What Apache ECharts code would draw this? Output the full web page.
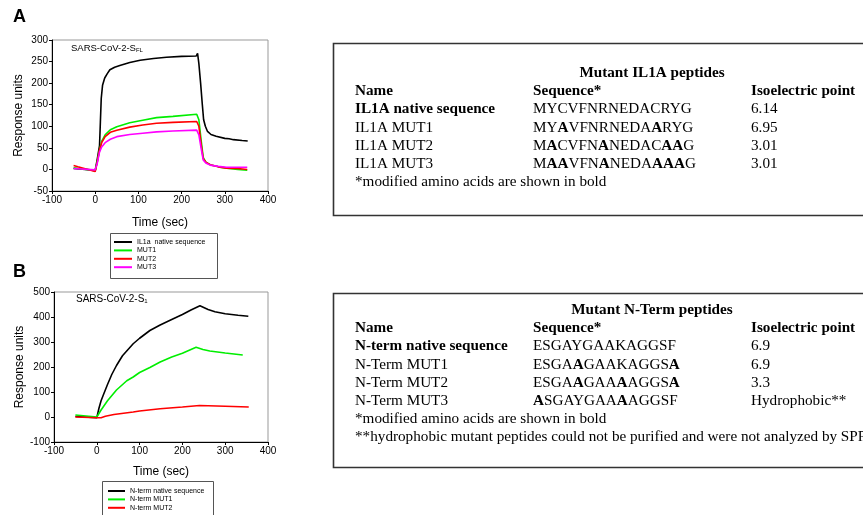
<!DOCTYPE html>
<html><head><meta charset="utf-8">
<script src="https://cdn.jsdelivr.net/npm/echarts@6/dist/echarts.min.js"></script>
<style>html,body{margin:0;padding:0;background:#fff}#c{width:863px;height:515px}</style>
</head><body><div id="c"></div>
<script>
// ---------- Panel A data (time in sec, response units) ----------
const aBlackT = [-50,-10,0,5,10,12,14,17,22,28,34,45,57,80,104,135,165,200,234,237,240,244,248,251,255,260,268,280,300,310,320,340,353];
const aBlackV = [2,-1,-3,25,55,110,165,195,212,222,231,237,241,248,253,257,260,262,263,269,245,200,150,115,100,88,81,77,72,71,69,67,66];
const aGreenT = [-50,0,5,10,15,23,35,50,80,110,142,180,235,238,240,245,250,256,266,285,304,330,352];
const aGreenV = [4,-3,20,45,65,80,92,99,108,114,120,123,128,132,115,70,28,17,11,6,3,0,-2];
const aRedT = [-50,-40,0,5,10,15,23,35,50,80,110,142,180,235,238,240,245,250,256,266,285,304,330,352];
const aRedV = [9,6,-5,18,45,62,76,86,91,98,103,107,109,111,113,100,60,25,17,11,6,3,2,0];
const aMagT = [-50,0,5,10,15,23,35,50,80,110,142,180,235,238,240,245,250,256,266,285,304,330,352];
const aMagV = [2,-1,15,40,52,62,70,76,81,84,87,89,91,93,80,50,22,15,10,7,5,5,5];
// ---------- Panel B data ----------
const bBlackT = [-50,0,5,10,15,25,35,46,60,85,100,124,148,175,200,220,241,260,276,300,330,354];
const bBlackV = [2,-3,35,65,87,130,170,206,245,293,315,346,368,390,410,428,445,430,421,413,407,403];
const bGreenT = [-50,0,10,25,46,70,85,100,124,148,175,200,232,248,264,300,341];
const bGreenV = [8,0,28,65,108,145,160,178,198,220,240,255,279,270,264,256,248];
const bRedT = [-50,0,10,20,40,85,100,148,200,240,300,355];
const bRedV = [0,-3,-3,3,10,20,24,33,40,46,43,40];
// ---------- labels ----------
const aNames = ['IL1a  native sequence','MUT1','MUT2','MUT3'];
const bNames = ['N-term native sequence','N-term MUT1','N-term MUT2'];
const colors = ['#000000','#00ee00','#ff0000','#ff00ff'];
const tblA = {
  title: 'Mutant IL1A peptides',
  header: ['Name','Sequence*','Isoelectric point'],
  names: ['IL1A native sequence','IL1A MUT1','IL1A MUT2','IL1A MUT3'],
  seqs: ['MYCVFNRNEDACRYG','MY{b|A}VFNRNEDA{b|A}RYG','M{b|A}CVFN{b|A}NEDAC{b|AA}G','M{b|AA}VFN{b|A}NEDA{b|AAA}G'],
  pi: ['6.14','6.95','3.01','3.01'],
  notes: ['*modified amino acids are shown in bold']
};
const tblB = {
  title: 'Mutant N-Term peptides',
  header: ['Name','Sequence*','Isoelectric point'],
  names: ['N-term native sequence','N-Term MUT1','N-Term MUT2','N-Term MUT3'],
  seqs: ['ESGAYGAAKAGGSF','ESGA{b|A}GAAKAGGS{b|A}','ESGA{b|A}GAA{b|A}AGGS{b|A}','{b|A}SGAYGAA{b|A}AGGSF'],
  pi: ['6.9','6.9','3.3','Hydrophobic**'],
  notes: ['*modified amino acids are shown in bold','**hydrophobic mutant peptides could not be purified and were not analyzed by SPR']
};

function zip(t, v){ return t.map((x,i)=>[x, v[i]]); }

const chart = echarts.init(document.getElementById('c'), null, {renderer:'canvas'});
const sans = 'Liberation Sans';
const serif = 'Liberation Serif';

function xAx(gi, gap){
  return {gridIndex:gi, type:'value', min:-100, max:400, interval:100,
    name:'Time (sec)', nameLocation:'middle', nameGap:gap,
    nameTextStyle:{fontFamily:sans, fontSize:12, color:'#000'},
    axisLine:{onZero:false, lineStyle:{color:'#000', width:1}},
    axisTick:{length:3, lineStyle:{color:'#000'}},
    axisLabel:{fontFamily:sans, fontSize:10, color:'#000', margin:4},
    splitLine:{show:false}};
}
function yAx(gi, min, max, iv){
  return {gridIndex:gi, type:'value', min:min, max:max, interval:iv,
    name:'Response units', nameLocation:'middle', nameGap:27,
    nameTextStyle:{fontFamily:sans, fontSize:12, color:'#000'},
    axisLine:{show:true, onZero:false, lineStyle:{color:'#000', width:1}},
    axisTick:{show:true, length:3, lineStyle:{color:'#000'}},
    axisLabel:{fontFamily:sans, fontSize:10, color:'#000', margin:4},
    splitLine:{show:false}};
}
function ser(name, gi, t, v, ci){
  return {name:name, type:'line', xAxisIndex:gi, yAxisIndex:gi, data:zip(t,v),
    showSymbol:false, symbol:'none', lineStyle:{width:1.6, color:colors[ci]}, itemStyle:{color:colors[ci]},
    animation:false, silent:true};
}

const graphics = [];
graphics.push({type:'text', x:13, y:17, style:{text:'A', font:'bold 18px '+sans, fill:'#000', verticalAlign:'middle'}});
graphics.push({type:'text', x:13, y:272, style:{text:'B', font:'bold 18px '+sans, fill:'#000', verticalAlign:'middle'}});
graphics.push({type:'text', x:71, y:48, style:{text:'SARS-CoV-2-S{s|FL}', fontFamily:sans, fontSize:9.5, fill:'#000', verticalAlign:'middle',
  rich:{s:{fontSize:6, fontFamily:sans, verticalAlign:'bottom', padding:[4,0,0,0]}}}});
graphics.push({type:'text', x:76, y:299, style:{text:'SARS-CoV-2-S{s|1}', fontFamily:sans, fontSize:10, fill:'#000', verticalAlign:'middle',
  rich:{s:{fontSize:6, fontFamily:sans, verticalAlign:'bottom', padding:[4,0,0,0]}}}});
// legend boxes
graphics.push({type:'rect', shape:{x:110.5, y:233.5, width:107, height:45}, style:{fill:'#fff', stroke:'#555', lineWidth:1}, z:-1});
graphics.push({type:'rect', shape:{x:102.5, y:481.5, width:111, height:45}, style:{fill:'#fff', stroke:'#555', lineWidth:1}, z:-1});

function table(tb, top, bottom, y0){
  graphics.push({type:'rect', shape:{x:333.5, y:top, width:560, height:bottom-top}, style:{fill:'none', stroke:'#333', lineWidth:1.6}});
  const fs = 15.2, lh = 18.2;
  const base = {fontFamily:serif, fontSize:fs, fill:'#000', verticalAlign:'middle', align:'left'};
  graphics.push({type:'text', x:652, y:y0, style:Object.assign({}, base, {text:tb.title, fontWeight:'bold', align:'center'})});
  const cols = [355, 533, 751];
  let y = y0 + lh;
  tb.header.forEach((h,i)=>graphics.push({type:'text', x:cols[i], y:y, style:Object.assign({}, base, {text:h, fontWeight:'bold'})}));
  for (let r=0; r<tb.names.length; r++){
    y += lh;
    graphics.push({type:'text', x:cols[0], y:y, style:Object.assign({}, base, {text:tb.names[r], fontWeight: r===0?'bold':'normal'})});
    graphics.push({type:'text', x:cols[1], y:y, style:Object.assign({}, base, {text:tb.seqs[r],
      rich:{b:{fontFamily:serif, fontSize:fs, fontWeight:'bold', fill:'#000'}}})});
    graphics.push({type:'text', x:cols[2], y:y, style:Object.assign({}, base, {text:tb.pi[r]})});
  }
  tb.notes.forEach(n=>{ y += lh; graphics.push({type:'text', x:cols[0], y:y, style:Object.assign({}, base, {text:n})}); });
}
table(tblA, 43.5, 215.5, 73);
table(tblB, 293.5, 467.5, 310);

chart.setOption({
  animation:false,
  backgroundColor:'#fff',
  grid:[
    {left:52, top:40, width:216, height:151, show:true, borderColor:'#999', borderWidth:1, backgroundColor:'transparent'},
    {left:54, top:292, width:214, height:150, show:true, borderColor:'#999', borderWidth:1, backgroundColor:'transparent'}
  ],
  xAxis:[xAx(0,26), xAx(1,24)],
  yAxis:[yAx(0,-50,300,50), yAx(1,-100,500,100)],
  legend:[
    {data:aNames, orient:'vertical', left:114, top:238, padding:0, itemGap:0.4, itemWidth:18, itemHeight:2, icon:'rect',
      textStyle:{fontFamily:sans, fontSize:7, color:'#000', lineHeight:8}, selectedMode:false},
    {data:bNames, orient:'vertical', left:108, top:487, padding:0, itemGap:0.4, itemWidth:17, itemHeight:2, icon:'rect',
      textStyle:{fontFamily:sans, fontSize:7, color:'#000', lineHeight:8}, selectedMode:false}
  ],
  series:[
    ser(aNames[0],0,aBlackT,aBlackV,0),
    ser(aNames[1],0,aGreenT,aGreenV,1),
    ser(aNames[2],0,aRedT,aRedV,2),
    ser(aNames[3],0,aMagT,aMagV,3),
    ser(bNames[0],1,bBlackT,bBlackV,0),
    ser(bNames[1],1,bGreenT,bGreenV,1),
    ser(bNames[2],1,bRedT,bRedV,2)
  ],
  graphic:graphics
});
</script></body></html>
